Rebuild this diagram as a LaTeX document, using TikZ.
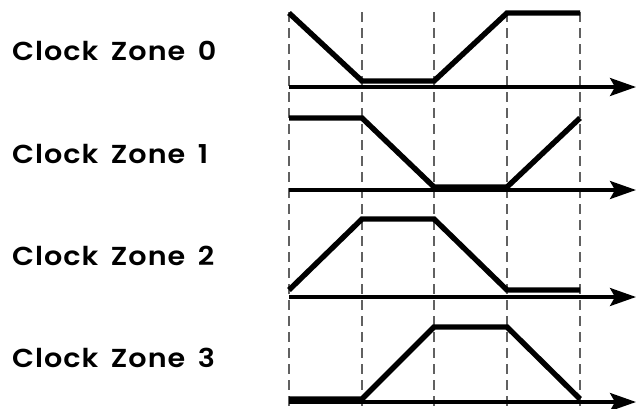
\documentclass[tikz,border=0pt]{standalone}
\usepackage{fontspec}
\setmainfont{Poppins}
\newfontfamily\zonafont[LetterSpace=4,FakeStretch=1.1,WordSpace=1.6,BoldFont={* SemiBold}]{Poppins}
\usetikzlibrary{arrows.meta}
\begin{document}
\begin{tikzpicture}[x=1pt,y=-1pt,
    asse/.style={line width=3.4pt,-{Stealth[length=26pt,width=18pt,inset=5pt]}},
    segnale/.style={line width=5.4pt,line join=miter},
    griglia/.style={black!62,line width=1.8pt,dash pattern=on 10pt off 6pt},
    etichetta/.style={anchor=west,inner sep=0pt,font=\zonafont\fontsize{26}{29}\selectfont\bfseries}]
    \useasboundingbox (0,0) rectangle (636,408);

    % linee verticali tratteggiate
    \foreach \x in {289,362,434,507,580}
        \draw[griglia] (\x,12) -- (\x,408);

    % etichette delle zone
    \node[etichetta] (zona0) at (12,51) {Clock Zone 0};
    \node[etichetta] (zona1) at (12,154) {Clock Zone 1};
    \node[etichetta] (zona2) at (12,256) {Clock Zone 2};
    \node[etichetta] (zona3) at (12,358) {Clock Zone 3};

    % assi dei tempi
    \draw[asse] (289,87) -- (636,87);
    \draw[asse] (289,190) -- (636,190);
    \draw[asse] (289,297) -- (636,297);
    \draw[asse] (289,402) -- (636,402);

    % segnali di clock
    \draw[segnale] (289,13) -- (362,81) -- (434,81) -- (507,13) -- (580,13);
    \draw[segnale] (289,118) -- (362,118) -- (434,187) -- (507,187) -- (580,118);
    \draw[segnale] (289,290) -- (362,219) -- (434,219) -- (507,290) -- (580,290);
    \draw[segnale] (289,399) -- (362,399) -- (434,327) -- (507,327) -- (580,399);
\end{tikzpicture}
\end{document}
